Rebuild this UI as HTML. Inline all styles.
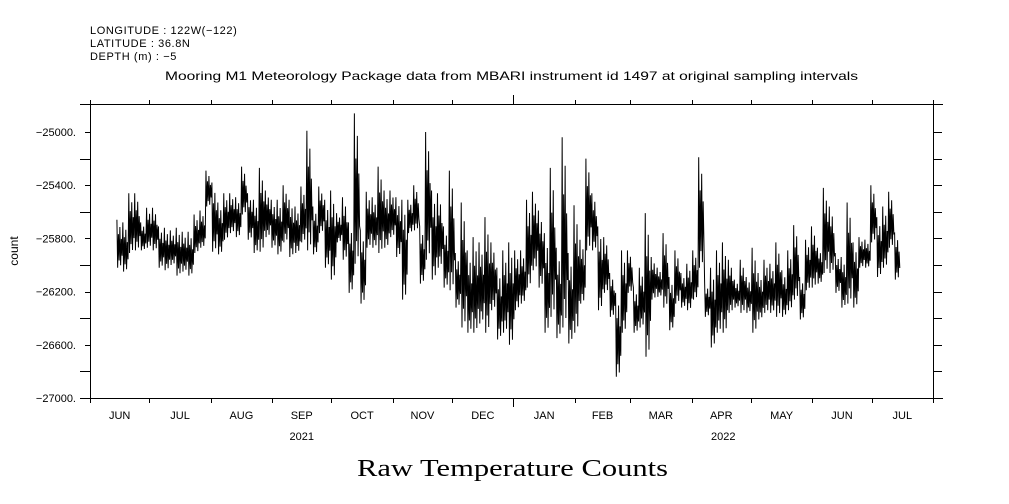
<!DOCTYPE html>
<html><head><meta charset="utf-8"><style>
html,body{margin:0;padding:0;background:#fff;}
svg{display:block;font-family:"Liberation Sans",sans-serif;}
</style></head><body>
<svg id="chart" width="1009" height="504" viewBox="0 0 1009 504" xmlns="http://www.w3.org/2000/svg">
<g font-size="11" fill="#000" letter-spacing="0.6">
<text x="90" y="34">LONGITUDE : 122W(−122)</text>
<text x="90" y="47">LATITUDE : 36.8N</text>
<text x="90" y="60">DEPTH (m) : −5</text>
</g>
<text x="165" y="80" textLength="693" lengthAdjust="spacingAndGlyphs" font-size="12">Mooring M1 Meteorology Package data from MBARI instrument id 1497 at original sampling intervals</text>
<text x="357" y="476" textLength="311" lengthAdjust="spacingAndGlyphs" font-size="24" font-family="'Liberation Serif',serif">Raw Temperature Counts</text>
<text x="18" y="251" text-anchor="middle" font-size="12" transform="rotate(-90 18 251)">count</text>
<g id="axes" stroke="#000" stroke-width="1" fill="none"></g>
<g id="labels" font-size="11" fill="#000"></g>
<path id="series" stroke="#000" stroke-width="1" fill="none"/>
</svg>
<script>
const monthLabels=["JUN","JUL","AUG","SEP","OCT","NOV","DEC","JAN","FEB","MAR","APR","MAY","JUN","JUL"];
const monthStartDays=[0,30,61,92,122,153,183,214,245,273,304,334,365,395,426];
const yearLabels=["2021","2022"];
const yTicks=[-25000,-25400,-25800,-26200,-26600,-27000];
const startDay=13.6, stepDays=3;
const hiVals=[-25660,-25680,-25460,-25460,-25680,-25570,-25570,-25710,-25720,-25740,-25720,-25750,-25750,-25620,-25590,-25290,-25380,-25530,-25460,-25460,-25490,-25260,-25460,-25510,-25270,-25440,-25510,-25510,-25400,-25510,-25560,-25410,-24990,-25560,-25410,-25510,-25440,-25610,-25490,-25680,-24860,-25740,-25450,-25490,-25260,-25440,-25440,-25490,-25510,-25510,-25400,-25710,-25000,-25440,-25460,-25710,-25290,-25910,-25530,-25890,-25790,-25830,-25640,-25830,-26020,-25890,-25830,-25890,-25890,-25510,-25450,-25590,-25760,-25270,-25870,-25040,-25910,-25550,-25810,-25200,-25460,-25710,-25790,-26060,-26210,-25890,-25890,-26170,-26020,-25610,-25940,-26020,-25760,-26090,-25890,-26060,-25990,-25890,-25190,-26140,-26020,-25890,-25830,-25960,-26110,-25960,-26090,-25870,-26060,-25960,-25990,-25830,-26040,-25890,-25700,-26090,-25810,-25710,-25870,-25420,-25560,-25910,-25940,-25530,-25830,-25790,-25810,-25400,-25640,-25560,-25450,-25760];
const loVals=[-26020,-26050,-25910,-25890,-25890,-25870,-25890,-26020,-26040,-26000,-26080,-26050,-26080,-25910,-25870,-25560,-25900,-25920,-25810,-25760,-25790,-25620,-25810,-25910,-25900,-25790,-25870,-25920,-25830,-25940,-25910,-25830,-25890,-25920,-25760,-26020,-26110,-25830,-25960,-26210,-25990,-26290,-25870,-25870,-25910,-25870,-25790,-25940,-26260,-25760,-25740,-26140,-25960,-26110,-26020,-26170,-26190,-26320,-26470,-26510,-26510,-26440,-26510,-26340,-26560,-26510,-26600,-26340,-26290,-26170,-26040,-26170,-26510,-26390,-26550,-26470,-26590,-26510,-26290,-25890,-25890,-26340,-26210,-26390,-26840,-26510,-26210,-26510,-26470,-26690,-26260,-26240,-26320,-26490,-26290,-26320,-26340,-26260,-26020,-26390,-26620,-26510,-26510,-26360,-26320,-26360,-26360,-26510,-26410,-26360,-26360,-26390,-26390,-26340,-26260,-26410,-26190,-26170,-26140,-26060,-26060,-26210,-26320,-26290,-26320,-26020,-26020,-25830,-26090,-26020,-25870,-26110];

const X0=90,X1=933,Y0=104,Y1=398;
const xs=d=>X0+d*(X1-X0)/426;
const ys=v=>132+(-25000-v)*(398-132)/2000;
const NS="http://www.w3.org/2000/svg";
const axes=document.getElementById('axes'),labels=document.getElementById('labels');
function line(x1,y1,x2,y2,name){const l=document.createElementNS(NS,'line');l.setAttribute('x1',x1);l.setAttribute('y1',y1);l.setAttribute('x2',x2);l.setAttribute('y2',y2);


axes.appendChild(l);}
function text(x,y,s,anchor,name){const t=document.createElementNS(NS,'text');t.setAttribute('x',x);t.setAttribute('y',y);t.setAttribute('text-anchor',anchor);t.textContent=s;


labels.appendChild(t);}
line(80,Y0+.5,943,Y0+.5,'top-axis');line(80,Y1+.5,943,Y1+.5,'bottom-axis');
line(X0+.5,Y0-4,X0+.5,Y1+5,'left-axis');line(X1+.5,Y0-4,X1+.5,Y1+5,'right-axis');
monthStartDays.forEach((d,i)=>{const x=Math.round(xs(d))+.5;const yr=(d===214);
 line(x,Y0-(yr?9:4),x,Y0,'top-tick');line(x,Y1,x,Y1+(yr?9:5),'bottom-tick');
 if(i<monthLabels.length){text(xs((d+monthStartDays[i+1])/2),419,monthLabels[i],'middle','month-label');}});
text(xs(107),440,yearLabels[0],'middle','year-label');text(xs(320),440,yearLabels[1],'middle','year-label');
for(let v=-25000;v>=-27000;v-=200){const y=Math.round(ys(v))+.5;line(X0-(v%400===0?10:5),y,X0,y,'y-tick-left');line(X1,y,X1+9,y,'y-tick-right');}
yTicks.forEach(v=>text(76,ys(v)+4,'−'+Math.abs(v)+'.','end','y-tick-label'));
const f=[0,1,0.3,0.85,0.15,0.95,0.4,0.75];
let p='';
hiVals.forEach((h,i)=>{const x=xs(startDay+i*stepDays),w=xs(startDay+(i+1)*stepDays)-x;const lo=loVals[i];
 f.forEach((k,j)=>{const v=h+(lo-h)*k;p+=(i===0&&j===0?'M':'L')+(x+w*j/f.length).toFixed(2)+' '+ys(v).toFixed(1);});});
document.getElementById('series').setAttribute('d',p);
</script>
</body></html>
